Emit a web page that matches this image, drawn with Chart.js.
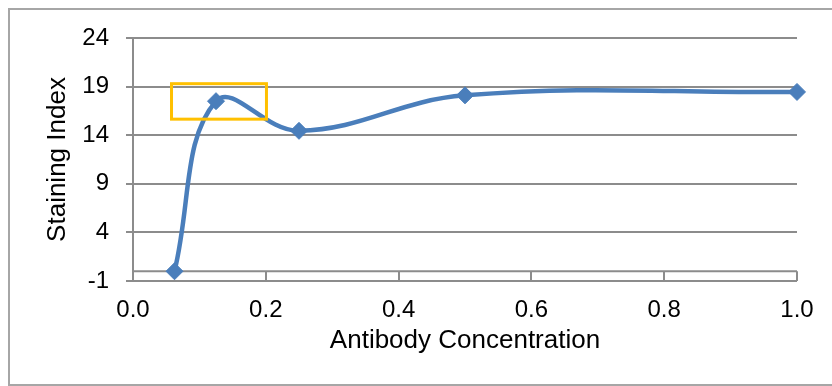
<!DOCTYPE html>
<html>
<head>
<meta charset="utf-8">
<script src="https://cdn.jsdelivr.net/npm/chart.js@4/dist/chart.umd.min.js"></script>
<style>
  html, body { margin: 0; padding: 0; background: #ffffff; }
  #wrap { position: relative; width: 832px; height: 386px; overflow: hidden; }
  #frame {
    position: absolute; left: 8px; top: 8px; width: 840px; height: 374px;
    border: 2px solid #a6a6a6; border-right: none; box-sizing: content-box;
  }
  canvas { position: absolute; left: 0; top: 0; }
</style>
</head>
<body>
<div id="wrap">
  <div id="frame"></div>
  <canvas id="chart" width="832" height="386"></canvas>
</div>
<script>
// Antibody titration: staining index per concentration
const concentrations = [0.0625, 0.125, 0.25, 0.5, 1.0];
const stainingIndex = [0.0, 17.5, 14.45, 18.1, 18.45];

// Axis ranges and tick spacing
const xRange = [0, 1];
const xStep = 0.2;
const yRange = [-1, 24];
const yStep = 5;

// Highlight box around the peak (data units)
const boxX = [0.058, 0.201];
const boxY = [15.65, 19.3];

const FONT = "'Liberation Sans', Arial, sans-serif";
const GRID = '#8c8c8c';

// Horizontal axis line at zero with its tick marks, plus the highlight box
const extrasPlugin = {
  id: 'extras',
  beforeDatasetsDraw(chart) {
    const { ctx, scales: { x, y }, chartArea } = chart;
    const y0 = y.getPixelForValue(0);
    const yMin = y.getPixelForValue(yRange[0]);
    ctx.save();
    ctx.strokeStyle = GRID;
    ctx.lineWidth = 2;
    ctx.beginPath();
    ctx.moveTo(chartArea.left, y0);
    ctx.lineTo(chartArea.right, y0);
    x.ticks.forEach(t => {
      const px = Math.round(x.getPixelForValue(t.value));
      ctx.moveTo(px, y0);
      ctx.lineTo(px, yMin);
    });
    ctx.stroke();
    ctx.restore();
  },
  afterDatasetsDraw(chart) {
    const { ctx, scales: { x, y } } = chart;
    const bx1 = x.getPixelForValue(boxX[0]);
    const bx2 = x.getPixelForValue(boxX[1]);
    const by1 = y.getPixelForValue(boxY[1]);
    const by2 = y.getPixelForValue(boxY[0]);
    ctx.save();
    ctx.strokeStyle = '#ffc000';
    ctx.lineWidth = 3;
    ctx.strokeRect(bx1, by1, bx2 - bx1, by2 - by1);
    ctx.restore();
  }
};

new Chart(document.getElementById('chart'), {
  type: 'line',
  data: {
    datasets: [{
      data: concentrations.map((c, i) => ({ x: c, y: stainingIndex[i] })),
      borderColor: '#4a7ebb',
      backgroundColor: '#4a7ebb',
      borderWidth: 4.5,
      tension: 0.4,
      pointStyle: 'rectRot',
      pointRadius: 8.5,
      pointBorderWidth: 1,
      pointBorderColor: '#4a7ebb',
      pointBackgroundColor: '#4a7ebb',
      clip: false
    }]
  },
  options: {
    responsive: false,
    animation: false,
    devicePixelRatio: 1,
    layout: { padding: { left: 0, top: 38, right: 35, bottom: 0 } },
    plugins: { legend: { display: false }, tooltip: { enabled: false } },
    scales: {
      x: {
        type: 'linear',
        position: 'bottom',
        min: xRange[0],
        max: xRange[1],
        afterFit(scale) { scale.height = 105; },
        grid: { display: false },
        border: { display: false },
        ticks: {
          stepSize: xStep,
          color: '#000000',
          padding: 7,
          font: { family: FONT, size: 24 },
          callback: v => Number(v).toFixed(1)
        },
        title: {
          display: true,
          text: 'Antibody Concentration',
          color: '#000000',
          font: { family: FONT, size: 26 },
          padding: { top: 0, bottom: 30 }
        }
      },
      y: {
        type: 'linear',
        min: yRange[0],
        max: yRange[1],
        afterFit(scale) { scale.width = 133; },
        grid: { color: GRID, lineWidth: 2, drawTicks: true, tickLength: 7 },
        border: { display: true, color: GRID, width: 2 },
        ticks: {
          stepSize: yStep,
          color: '#000000',
          padding: 17,
          font: { family: FONT, size: 24 }
        },
        title: {
          display: true,
          text: 'Staining Index',
          color: '#000000',
          font: { family: FONT, size: 26 },
          padding: { top: 42, bottom: 0 }
        }
      }
    }
  },
  plugins: [extrasPlugin]
});
</script>
</body>
</html>
